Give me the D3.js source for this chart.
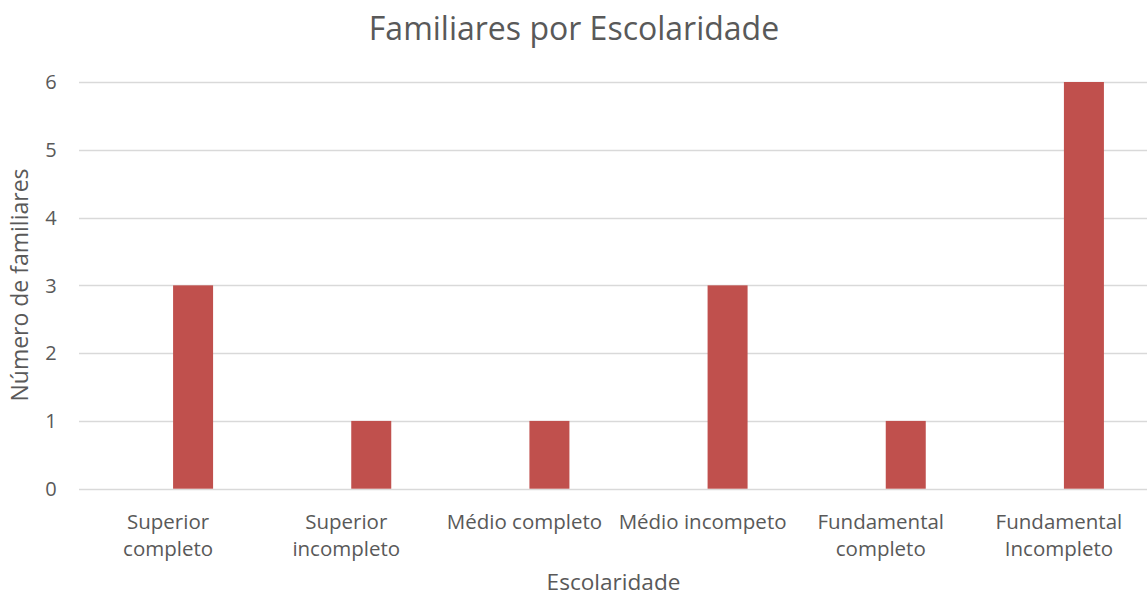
<!DOCTYPE html>
<html>
<head>
<meta charset="utf-8">
<script src="https://cdnjs.cloudflare.com/ajax/libs/d3/7.8.5/d3.min.js"></script>
<style>
  body { margin: 0; background: #fff; }
  svg { display: block; font-family: "Open Sans", "Noto Sans", sans-serif; }
</style>
</head>
<body>
<svg></svg>
<script>
const width = 1147
const height = 599

// data
const categories = ["Superior completo", "Superior incompleto", "Médio completo", "Médio incompeto", "Fundamental completo", "Fundamental Incompleto"]
const tickLabels = [["Superior", "completo"], ["Superior", "incompleto"], ["Médio completo"], ["Médio incompeto"], ["Fundamental", "completo"], ["Fundamental", "Incompleto"]]
const values = [3, 1, 1, 3, 1, 6]
const yTicks = [0, 1, 2, 3, 4, 5, 6]

const margin = {top: 82, right: -1, bottom: 110, left: 79}

const svg = d3.select('svg')
  .attr('width', width)
  .attr('height', height)

const x = d3.scaleBand()
  .domain(categories)
  .range([margin.left, width - margin.right])
  .padding(0)

const y = d3.scaleLinear()
  .domain([0, 6])
  .range([height - margin.bottom - 0.3, margin.top])

const plotCenter = (margin.left + width - margin.right) / 2

// gridlines
svg.append("g")
  .selectAll("line")
  .data(yTicks)
  .enter()
  .append("line")
  .attr("x1", margin.left)
  .attr("x2", width)
  .attr("y1", d => Math.round(y(d)) + 0.5)
  .attr("y2", d => Math.round(y(d)) + 0.5)
  .attr("stroke", "#d9d9d9")
  .attr("stroke-width", 1.5)

// y tick labels
svg.append("g")
  .selectAll("text")
  .data(yTicks)
  .enter()
  .append("text")
  .attr("x", 51)
  .attr("y", d => y(d))
  .attr("dy", "0.36em")
  .attr("text-anchor", "middle")
  .attr("font-size", 20)
  .attr("fill", "#595959")
  .text(d => d)

// bars (second slot of a two-series cluster, the first series is empty)
const barW = 40
svg.append("g")
  .selectAll("rect")
  .data(values)
  .enter()
  .append("rect")
  .attr("x", (d, i) => x(categories[i]) + x.bandwidth() / 2 + 5)
  .attr("width", barW)
  .attr("y", d => y(d))
  .attr("height", d => y(0) - y(d))
  .attr("fill", "#c0504d")

// x tick labels
const xl = svg.append("g")
  .selectAll("text")
  .data(categories)
  .enter()
  .append("text")
  .attr("x", d => x(d) + x.bandwidth() / 2)
  .attr("y", 529)
  .attr("text-anchor", "middle")
  .attr("font-size", 20.5)
  .attr("fill", "#595959")

xl.selectAll("tspan")
  .data((d, i) => tickLabels[i])
  .enter()
  .append("tspan")
  .attr("x", function() { return d3.select(this.parentNode).attr("x") })
  .attr("dy", (d, i) => i === 0 ? 0 : 27)
  .text(d => d)

// title
svg.append("text")
  .attr("x", 574)
  .attr("y", 40)
  .attr("text-anchor", "middle")
  .attr("font-size", 32)
  .attr("fill", "#595959")
  .text("Familiares por Escolaridade")

// axis titles
svg.append("text")
  .attr("x", plotCenter)
  .attr("y", 590)
  .attr("text-anchor", "middle")
  .attr("font-size", 22.6)
  .attr("fill", "#595959")
  .text("Escolaridade")

svg.append("text")
  .attr("transform", "translate(28,285) rotate(-90)")
  .attr("text-anchor", "middle")
  .attr("font-size", 23)
  .attr("fill", "#595959")
  .text("Número de familiares")
</script>
</body>
</html>
